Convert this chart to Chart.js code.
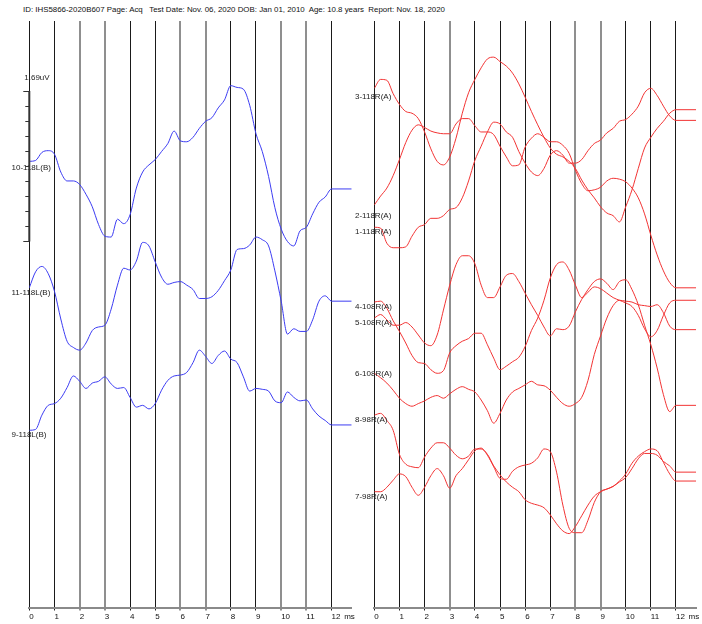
<!DOCTYPE html>
<html>
<head>
<meta charset="utf-8">
<title>ABR waveforms</title>
<script src="https://cdn.jsdelivr.net/npm/chart.js@4.4.0/dist/chart.umd.min.js"></script>
<style>
  html, body { margin: 0; padding: 0; background: #fff; }
  #wrap { position: relative; width: 702px; height: 624px; overflow: hidden; background: #fff; }
  #hdr { position: absolute; left: 23px; top: 5px; font: 7.9px "Liberation Sans", Arial, sans-serif; color: #111; white-space: pre; }
  canvas { position: absolute; top: 0; }
  #leftPanel { left: 0; }
  #rightPanel { left: 350px; }
</style>
</head>
<body>
<div id="wrap">
  <div id="hdr">ID: IHS5866-2020B607 Page: Acq   Test Date: Nov. 06, 2020 DOB: Jan 01, 2010  Age: 10.8 years  Report: Nov. 18, 2020</div>
  <canvas id="leftPanel" width="360" height="624" style="width:360px;height:624px"></canvas>
  <canvas id="rightPanel" width="352" height="624" style="width:352px;height:624px"></canvas>
</div>
<script>
// Sampling grid of the recorded sweeps (ms) and the hold segment after the sweep ends
const timeMs = Array.from({ length: 49 }, (_, i) => i * 0.25);
const holdEndMs = 12.8;
const msTicks = [0, 1, 2, 3, 4, 5, 6, 7, 8, 9, 10, 11, 12];
const unitTickMs = 12.5;

// Amplitude scale bar (µV)
const scaleBarUV = 1.69;
const scaleBarTopUV = 5.80;

// ---- Left ear, blue traces (µV relative to each trace's start level) ----
const leftNames = ['10-118L(B)', '11-118L(B)', '9-118L(B)'];
const leftBaselines = [5.01, 3.59, 1.99];
const wave10L = [0, 0.01, 0.10, 0.12, 0.08, -0.12, -0.22, -0.22, -0.26, -0.37, -0.51, -0.71, -0.84, -0.85, -0.65, -0.70, -0.60, -0.30, -0.12, -0.04, 0.02, 0.11, 0.20, 0.34, 0.23, 0.22, 0.27, 0.37, 0.45, 0.49, 0.60, 0.69, 0.85, 0.83, 0.81, 0.63, 0.31, 0.11, -0.17, -0.52, -0.76, -0.90, -0.95, -0.78, -0.74, -0.59, -0.46, -0.40, -0.31];
const wave11L = [0, 0.18, 0.24, 0.16, -0.04, -0.35, -0.60, -0.67, -0.70, -0.62, -0.48, -0.44, -0.42, -0.24, 0.03, 0.22, 0.20, 0.30, 0.51, 0.47, 0.29, 0.12, 0.04, 0.06, 0.07, 0.03, -0.02, -0.12, -0.12, -0.10, -0.03, 0.08, 0.20, 0.43, 0.44, 0.48, 0.57, 0.54, 0.47, 0.19, -0.15, -0.52, -0.46, -0.49, -0.49, -0.36, -0.15, -0.09, -0.15];
const wave9L = [0, 0.01, 0.17, 0.28, 0.30, 0.36, 0.48, 0.61, 0.55, 0.47, 0.53, 0.55, 0.60, 0.52, 0.47, 0.48, 0.37, 0.26, 0.28, 0.24, 0.30, 0.45, 0.56, 0.61, 0.62, 0.65, 0.76, 0.90, 0.83, 0.75, 0.84, 0.89, 0.80, 0.76, 0.60, 0.44, 0.47, 0.46, 0.44, 0.33, 0.31, 0.43, 0.37, 0.33, 0.34, 0.24, 0.16, 0.11, 0.06];

// ---- Right ear, red traces ----
const rightNames = ['3-118R(A)', '2-118R(A)', '1-118R(A)', '4-108R(A)', '5-108R(A)', '6-108R(A)', '8-98R(A)', '7-98R(A)'];
const rightBaselines = [5.83, 4.52, 4.27, 3.43, 3.25, 2.63, 2.16, 1.30];
const wave3R = [0, 0.10, 0.09, -0.06, -0.18, -0.26, -0.28, -0.34, -0.49, -0.68, -0.82, -0.86, -0.77, -0.56, -0.28, -0.05, 0.10, 0.23, 0.33, 0.35, 0.30, 0.25, 0.17, 0.05, -0.10, -0.26, -0.41, -0.55, -0.67, -0.74, -0.77, -0.82, -0.90, -1.03, -1.14, -1.23, -1.33, -1.40, -1.43, -1.50, -1.33, -1.14, -0.90, -0.67, -0.55, -0.45, -0.37, -0.28, -0.24];
const wave2R = [0, 0.10, 0.19, 0.33, 0.51, 0.70, 0.84, 0.90, 0.87, 0.83, 0.81, 0.80, 0.80, 0.91, 0.97, 0.97, 0.89, 0.82, 0.82, 0.79, 0.66, 0.54, 0.44, 0.45, 0.65, 0.75, 0.80, 0.76, 0.71, 0.71, 0.67, 0.58, 0.39, 0.24, 0.16, 0.17, 0.20, 0.27, 0.30, 0.29, 0.26, 0.19, 0.08, -0.10, -0.34, -0.56, -0.74, -0.87, -0.93];
const wave1R = [0, -0.01, -0.18, -0.23, -0.23, -0.22, -0.10, 0.00, 0.03, 0.10, 0.10, 0.13, 0.20, 0.22, 0.33, 0.52, 0.75, 0.91, 1.07, 1.18, 1.16, 1.07, 1.01, 0.85, 0.72, 0.62, 0.58, 0.66, 0.81, 0.86, 0.81, 0.72, 0.72, 0.76, 0.86, 0.94, 0.98, 1.06, 1.11, 1.19, 1.21, 1.27, 1.36, 1.51, 1.56, 1.48, 1.36, 1.25, 1.20];
const wave4R = [0, 0.01, -0.07, -0.21, -0.33, -0.46, -0.60, -0.68, -0.69, -0.76, -0.80, -0.77, -0.57, -0.49, -0.44, -0.41, -0.35, -0.35, -0.48, -0.63, -0.76, -0.72, -0.67, -0.62, -0.50, -0.32, -0.18, 0.02, 0.27, 0.42, 0.45, 0.36, 0.19, 0.05, 0.11, 0.17, 0.15, 0.10, 0.05, 0.02, -0.01, -0.05, -0.15, -0.30, -0.39, -0.32, -0.15, -0.01, 0.02];
const wave5R = [0, 0.04, -0.02, -0.08, -0.08, -0.05, -0.10, -0.19, -0.28, -0.31, -0.19, 0.09, 0.37, 0.60, 0.70, 0.70, 0.61, 0.37, 0.23, 0.23, 0.35, 0.48, 0.50, 0.41, 0.28, 0.15, 0.03, -0.10, -0.20, -0.12, -0.13, -0.09, 0.07, 0.21, 0.32, 0.41, 0.44, 0.39, 0.32, 0.41, 0.43, 0.32, 0.15, -0.08, -0.30, -0.56, -0.86, -1.05, -0.98];
const wave6R = [0, -0.05, -0.11, -0.19, -0.28, -0.34, -0.37, -0.34, -0.31, -0.27, -0.25, -0.28, -0.23, -0.18, -0.15, -0.18, -0.21, -0.30, -0.42, -0.56, -0.45, -0.30, -0.21, -0.17, -0.13, -0.09, -0.13, -0.14, -0.19, -0.27, -0.34, -0.37, -0.34, -0.27, -0.08, 0.21, 0.42, 0.62, 0.76, 0.82, 0.81, 0.80, 0.77, 0.76, 0.75, 0.77, 0.68, 0.53, 0.49];
const wave8R = [0, 0.02, -0.06, -0.17, -0.44, -0.55, -0.58, -0.59, -0.47, -0.37, -0.31, -0.31, -0.37, -0.45, -0.49, -0.46, -0.38, -0.38, -0.44, -0.57, -0.67, -0.75, -0.81, -0.86, -0.95, -0.99, -1.01, -1.04, -1.12, -1.22, -1.30, -1.33, -1.25, -1.13, -1.01, -0.91, -0.86, -0.83, -0.80, -0.75, -0.70, -0.60, -0.49, -0.43, -0.43, -0.45, -0.52, -0.57, -0.64];
const wave7R = [0, 0.00, 0.05, 0.13, 0.20, 0.17, 0.05, -0.04, 0.05, 0.18, 0.26, 0.18, 0.04, 0.18, 0.26, 0.36, 0.46, 0.49, 0.41, 0.28, 0.15, 0.14, 0.23, 0.28, 0.30, 0.32, 0.38, 0.48, 0.45, 0.22, -0.15, -0.41, -0.46, -0.46, -0.32, -0.12, 0.00, 0.03, 0.06, 0.12, 0.20, 0.32, 0.40, 0.45, 0.48, 0.46, 0.33, 0.20, 0.12];

const FONT = '"Liberation Sans", Arial, sans-serif';
const Y_MAX_UV = 6.586;

function buildDatasets(names, baselines, waves, color) {
  return names.map((name, k) => {
    const w = waves[k];
    const pts = w.map((v, i) => ({ x: timeMs[i], y: baselines[k] + v }));
    pts.push({ x: holdEndMs, y: baselines[k] + w[w.length - 1] });
    return {
      label: name, data: pts, borderColor: color, borderWidth: 1,
      pointRadius: 0, fill: false, cubicInterpolationMode: 'monotone'
    };
  });
}

function timeAxis(grayTicks) {
  const isGray = c => c.tick && grayTicks.includes(c.tick.value);
  return {
    type: 'linear', min: 0, max: holdEndMs,
    afterBuildTicks: axis => { axis.ticks = msTicks.concat([unitTickMs]).map(v => ({ value: v })); },
    afterFit: axis => { axis.height = 16.5; },
    ticks: {
      align: 'start', maxRotation: 0, minRotation: 0, autoSkip: false, padding: 1,
      color: '#111', font: { family: FONT, size: 8 },
      callback: v => (v === unitTickMs ? 'ms' : String(v))
    },
    grid: {
      drawOnChartArea: true, drawTicks: true, tickLength: 3,
      color: c => (c.tick && c.tick.value === unitTickMs) ? 'rgba(0,0,0,0)' : (isGray(c) ? '#8f8f8f' : '#1a1a1a'),
      lineWidth: c => (isGray(c) ? 2 : 1)
    },
    border: { display: true, color: '#8a8a8a', width: 2 }
  };
}

// Trace names drawn beside the start of each sweep
function traceLabelPlugin(labelX, dyList) {
  return {
    id: 'traceLabels',
    afterDatasetsDraw(chart) {
      const ctx = chart.ctx, ys = chart.scales.y;
      ctx.save();
      ctx.font = '8px ' + FONT;
      ctx.fillStyle = '#222';
      ctx.textAlign = 'left';
      ctx.textBaseline = 'middle';
      chart.data.datasets.forEach((ds, k) => {
        const y = ys.getPixelForValue(ds.data[0].y) + dyList[k];
        ctx.fillText(ds.label, labelX, y);
      });
      ctx.restore();
    }
  };
}

// Calibration bar at the left edge of the blue panel
const scaleBarPlugin = {
  id: 'scaleBar',
  afterDatasetsDraw(chart) {
    const ctx = chart.ctx, xs = chart.scales.x, ys = chart.scales.y;
    const x = xs.getPixelForValue(0);
    const yTop = ys.getPixelForValue(scaleBarTopUV);
    const yBot = ys.getPixelForValue(scaleBarTopUV - scaleBarUV);
    ctx.save();
    ctx.strokeStyle = '#333';
    ctx.lineWidth = 2;
    ctx.beginPath(); ctx.moveTo(x, yTop); ctx.lineTo(x, yBot); ctx.stroke();
    ctx.lineWidth = 1;
    for (let i = 0; i <= 10; i++) {
      const y = Math.round(yTop + (yBot - yTop) * i / 10) + 0.5;
      const len = (i === 0 || i === 10) ? 6 : 4;
      ctx.beginPath(); ctx.moveTo(x - len, y); ctx.lineTo(x, y); ctx.stroke();
    }
    ctx.font = '8px ' + FONT;
    ctx.fillStyle = '#222';
    ctx.textBaseline = 'middle';
    ctx.fillText(scaleBarUV.toFixed(2) + 'uV', x - 5, yTop - 13);
    ctx.restore();
  }
};

function makePanel(canvasId, datasets, padding, grayTicks, plugins) {
  return new Chart(document.getElementById(canvasId), {
    type: 'line',
    data: { datasets },
    options: {
      responsive: false, animation: false, devicePixelRatio: 1,
      layout: { padding },
      parsing: false, normalized: true,
      scales: {
        x: timeAxis(grayTicks),
        y: { type: 'linear', display: false, min: 0, max: Y_MAX_UV }
      },
      plugins: { legend: { display: false }, tooltip: { enabled: false } }
    },
    plugins
  });
}

makePanel('leftPanel',
  buildDatasets(leftNames, leftBaselines, [wave10L, wave11L, wave9L], '#3c3cf2'),
  { left: 29.3, right: 8.3, top: 21, bottom: 0 },
  [2, 3, 6, 7, 10, 11],
  [traceLabelPlugin(11.5, [6.6, 5.3, 5]), scaleBarPlugin]);

makePanel('rightPanel',
  buildDatasets(rightNames, rightBaselines, [wave3R, wave2R, wave1R, wave4R, wave5R, wave6R, wave8R, wave7R], '#f23434'),
  { left: 24.3, right: 5.9, top: 21, bottom: 0 },
  [3, 8, 9],
  [traceLabelPlugin(5, [8, 11, 5, 5, 5, 1, 5, 5])]);
</script>
</body>
</html>
